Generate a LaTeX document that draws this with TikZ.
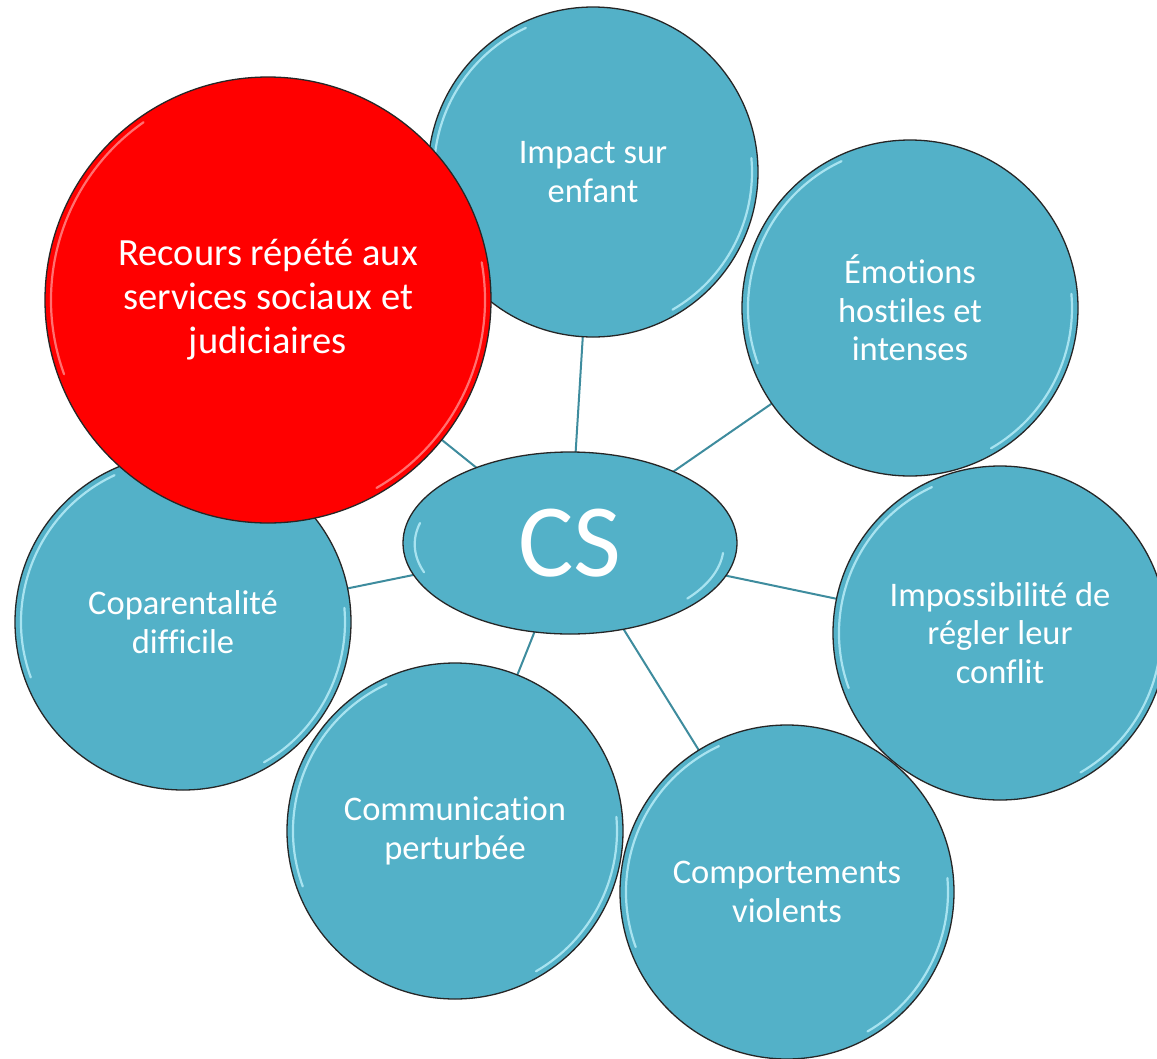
\documentclass[tikz,border=0pt]{standalone}
\usepackage{fontspec}
\setmainfont{Carlito}[Ligatures=NoCommon]
\usetikzlibrary{backgrounds,shapes.geometric}
\definecolor{teal1}{RGB}{83,177,200}
\definecolor{linkc}{RGB}{62,140,158}
\definecolor{hlteal}{RGB}{190,240,250}
\definecolor{hlred}{RGB}{255,140,140}
\tikzset{
  bubble/.style={circle, draw=black!85, line width=1.3pt, inner sep=0pt, align=center, text=white, font=\fontsize{34.5}{38.5}\selectfont},
  gloss/.style={line width=2.2pt, line cap=round, opacity=0.8},
  link/.style={draw=linkc, line width=2pt},
}
% name, x, y, radius, fill, highlight, text
\newcommand\mybubble[7]{%
  \node[bubble, fill=#5, minimum size=#4*2pt] (#1) at (#2,#3) {#7};
  \draw[gloss, draw=#6] ([shift={(115:#4pt-6pt)}]#1.center) arc[start angle=115, end angle=200, radius=#4pt-6pt];
  \draw[gloss, draw=#6] ([shift={(5:#4pt-6pt)}]#1.center) arc[start angle=5, end angle=-60, radius=#4pt-6pt];
}
\begin{document}
\begin{tikzpicture}[x=1pt,y=-1pt]
\useasboundingbox (0,0) rectangle (1157,1058);
\mybubble{emo}{910}{308}{168}{teal1}{hlteal}{Émotions\\hostiles et\\intenses}
\mybubble{imp}{1000}{633}{167}{teal1}{hlteal}{Impossibilité de\\régler leur\\conflit}
\mybubble{comp}{787}{892}{167}{teal1}{hlteal}{Comportements\\violents}
\mybubble{comm}{455}{831}{168}{teal1}{hlteal}{Communication\\perturbée}
\mybubble{copa}{183}{622}{168}{teal1}{hlteal}{Coparentalité\\difficile}
\mybubble{enf}{593}{172}{165}{teal1}{hlteal}{Impact sur\\enfant}
\node[bubble, fill=red, minimum size=446pt, font=\fontsize{38.5}{44}\selectfont] (rec) at (268,300) {Recours répété aux\\services sociaux et\\judiciaires};
\draw[gloss, draw=hlred] ([shift={(125:217pt)}]rec.center) arc[start angle=125, end angle=200, radius=217pt];
\draw[gloss, draw=hlred] ([shift={(10:217pt)}]rec.center) arc[start angle=10, end angle=-60, radius=217pt];
\node[ellipse, draw=black!85, line width=1.3pt, fill=teal1, minimum width=334pt, minimum height=182pt, inner sep=0pt, text=white, font=\fontsize{104}{110}\selectfont] (cs) at (570,543) {CS};
\draw[gloss, draw=hlteal] ([shift={(-150pt,20pt)}]cs.center) arc[start angle=165, end angle=200, x radius=155pt, y radius=82pt];
\draw[gloss, draw=hlteal] ([shift={(153pt,-10pt)}]cs.center) arc[start angle=-5, end angle=-40, x radius=155pt, y radius=82pt];
\begin{scope}[on background layer]
  \fill[white] (0,0) rectangle (1157,1058);
  \foreach \t in {enf,emo,imp,comp,comm,copa,rec}
    \draw[link] (cs.center) -- (\t.center);
\end{scope}
\end{tikzpicture}
\end{document}
